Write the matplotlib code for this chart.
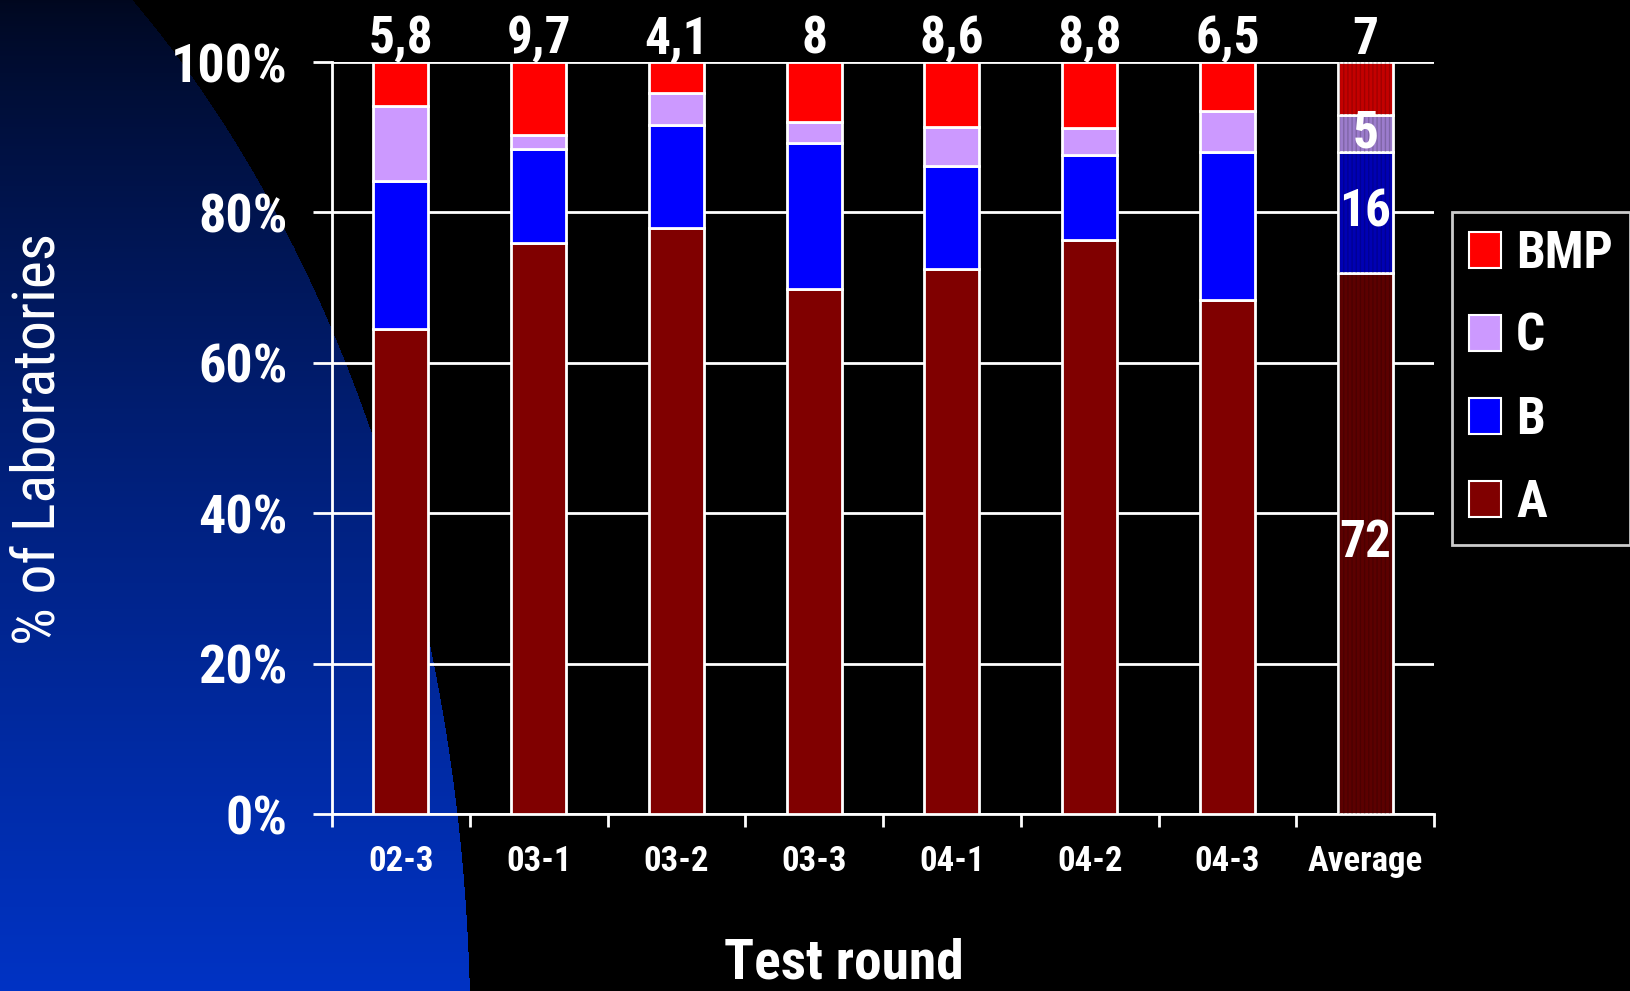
import numpy as np
import matplotlib
matplotlib.use('Agg')
import matplotlib.pyplot as plt
from matplotlib import font_manager
from matplotlib.patches import Patch

rounds = ['02-3', '03-1', '03-2', '03-3', '04-1', '04-2', '04-3', 'Average']
grade_a = [64.5, 75.9, 77.9, 69.8, 72.5, 76.3, 68.3, 72]
grade_b = [19.7, 12.5, 13.7, 19.4, 13.7, 11.4, 19.7, 16]
grade_c = [10.0, 1.9, 4.3, 2.8, 5.2, 3.5, 5.5, 5]
grade_bmp = [5.8, 9.7, 4.1, 8.0, 8.6, 8.8, 6.5, 7]
bmp_labels = ['5,8', '9,7', '4,1', '8', '8,6', '8,8', '6,5', '7']

names = ['A', 'B', 'C', 'BMP']
colors = ['#800000', '#0000ff', '#cc99ff', '#ff0000']
avg_colors = ['#5c0000', '#0000b4', '#9c7ccc', '#c40000']


def pick_font():
    have = {f.name for f in font_manager.fontManager.ttflist}
    for name in ['Roboto Condensed', 'PT Sans Narrow', 'Liberation Sans']:
        if name in have:
            return name
    return 'DejaVu Sans'


def background(fig, W, H):
    # dark-to-blue shaded ellipse on the left of a black slide
    yy, xx = np.mgrid[0:H, 0:W].astype(float)
    x0, yc, a, b = -416.0, 1040.0, 886.0, 1324.0
    inside = ((xx - x0) / a) ** 2 + ((yy - yc) / b) ** 2 <= 1.0
    t = np.clip(yy / H, 0, 1) ** 0.8
    top = np.array([0.0, 0.03, 0.12])
    bot = np.array([0.0, 0.20, 0.77])
    rgb = top[None, None, :] * (1 - t[..., None]) + bot[None, None, :] * t[..., None]
    img = np.zeros((H, W, 4))
    img[..., :3] = rgb
    img[..., 3] = inside.astype(float)
    bg = fig.add_axes([0, 0, 1, 1], zorder=-5)
    bg.imshow(img, aspect='auto', extent=[0, W, H, 0], interpolation='bilinear')
    bg.set_xlim(0, W)
    bg.set_ylim(H, 0)
    bg.axis('off')


def main():
    W, H = 1630, 991
    font = pick_font()
    plt.rcParams['font.family'] = [font, 'DejaVu Sans']
    plt.rcParams['font.weight'] = 'bold'

    fig = plt.figure(figsize=(W / 100, H / 100), dpi=100, facecolor='black')
    background(fig, W, H)

    ax = fig.add_axes([0.2037, 0.1786, 0.6761, 0.7588])
    ax.set_facecolor('none')

    x = np.arange(len(rounds))
    series = [grade_a, grade_b, grade_c, grade_bmp]
    bottom = np.zeros(len(rounds))
    for vals, name, col, acol in zip(series, names, colors, avg_colors):
        vals = np.array(vals, dtype=float)
        cols = [col] * (len(rounds) - 1) + [acol]
        ax.bar(x, vals, 0.4, bottom=bottom, color=cols, edgecolor='white',
               linewidth=2, zorder=3)
        # fine vertical texture on the average column
        ax.bar(x[-1], vals[-1], 0.4, bottom=bottom[-1], facecolor='none',
               edgecolor=(0, 0, 0, 0.18), linewidth=0, hatch='||||', zorder=3)
        bottom += vals

    # value labels
    for xi, lab in zip(x, bmp_labels):
        ax.text(xi, 101.1, lab, ha='center', va='baseline', color='white',
                fontsize=37, fontweight='bold', zorder=5)
    avg_a, avg_b, avg_c = grade_a[-1], grade_b[-1], grade_c[-1]
    for yc, val in [(avg_a / 2, avg_a),
                    (avg_a + avg_b / 2, avg_b),
                    (avg_a + avg_b + avg_c / 2, avg_c)]:
        ax.text(x[-1], yc, '%g' % val, ha='center', va='center', color='white',
                fontsize=37, fontweight='bold', zorder=5)

    ax.set_xlim(-0.5, len(rounds) - 0.5)
    ax.set_ylim(0, 100)
    ax.set_yticks(np.arange(0, 101, 20))
    ax.set_yticklabels(['%d%%' % v for v in range(0, 101, 20)])
    ax.yaxis.grid(True, color='white', linewidth=2, zorder=1)
    ax.set_axisbelow(True)

    ax.set_xticks(x)
    ax.set_xticklabels(rounds)
    ax.set_xticks(np.arange(-0.5, len(rounds), 1.0), minor=True)
    ax.tick_params(axis='x', which='major', length=0, pad=22, labelsize=25,
                   colors='white')
    ax.tick_params(axis='x', which='minor', length=9, width=2, color='white',
                   direction='out')
    ax.tick_params(axis='y', length=14, width=2, color='white', pad=18,
                   labelsize=39, labelcolor='white')
    for lab in ax.get_xticklabels() + ax.get_yticklabels():
        lab.set_fontweight('bold')

    for side in ['top', 'right']:
        ax.spines[side].set_visible(False)
    for side in ['left', 'bottom']:
        ax.spines[side].set_color('white')
        ax.spines[side].set_linewidth(2)

    fig.text(0.518, 0.028, 'Test round', ha='center', va='center',
             color='white', fontsize=40, fontweight='bold')
    fig.text(0.0235, 0.557, '% of Laboratories', ha='center', va='center',
             rotation=90, color='white', fontsize=43, fontweight='normal')

    handles = [Patch(facecolor=c, edgecolor='white', linewidth=1.5, label=n)
               for n, c in zip(names, colors)][::-1]
    leg = fig.legend(handles=handles, loc='upper left',
                     bbox_to_anchor=(1452 / W, 1 - 212 / H), frameon=True,
                     fontsize=37, labelcolor='white', handlelength=0.62,
                     handleheight=0.7, handletextpad=0.3, labelspacing=0.64,
                     borderpad=0.33, borderaxespad=0, fancybox=False)
    leg.get_frame().set_facecolor('black')
    leg.get_frame().set_edgecolor('white')
    leg.get_frame().set_linewidth(2)
    for t in leg.get_texts():
        t.set_fontweight('bold')

    fig.savefig('out.png', dpi=100, facecolor='black')


if __name__ == "__main__":
    main()
